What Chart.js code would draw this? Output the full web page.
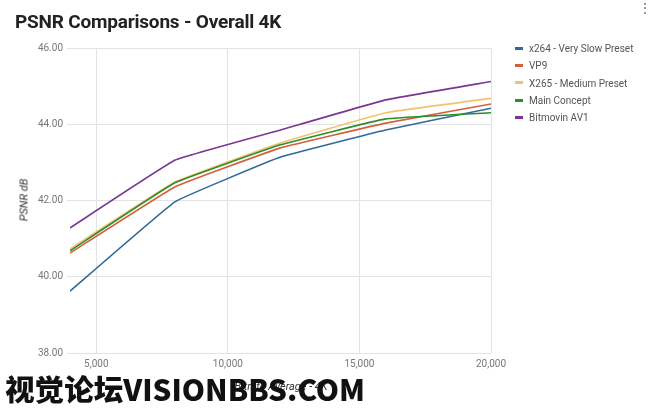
<!DOCTYPE html>
<html>
<head>
<meta charset="utf-8">
<script src="https://cdn.jsdelivr.net/npm/chart.js@4"></script>
<style>
  body { margin: 0; background: #fff; font-family: Roboto, "Noto Sans", sans-serif; }
  #wrap { position: relative; width: 650px; height: 410px; overflow: hidden; }
  #chart { position: absolute; left: 0; top: 0; }
  .title { position: absolute; left: 15px; top: 10px; font-size: 19px; font-weight: bold; color: #222; letter-spacing: -0.2px; }
  .menu { position: absolute; left: 638px; top: 0px; font-size: 14px; color: #777; }
  .ytitle { position: absolute; left: 24px; top: 200px; transform: translate(-50%, -50%) rotate(-90deg); font-size: 11px; font-style: italic; color: #333; white-space: nowrap; }
  .xtitle { position: absolute; left: 281px; top: 386px; transform: translate(-50%, -50%); font-size: 11px; font-style: italic; color: #333; white-space: nowrap; }
  .legend { position: absolute; left: 515px; top: 40px; font-size: 10px; color: #555; }
  .legend div { height: 17.3px; line-height: 17px; white-space: nowrap; }
  .legend span { display: inline-block; width: 8px; height: 3px; margin-right: 6px; vertical-align: middle; position: relative; top: -1px; }
  .mark { position: absolute; left: 5px; top: 388px; transform: translateY(-50%); font-family: "Noto Sans CJK SC", sans-serif; font-weight: 900; font-size: 29px; color: #111; white-space: nowrap; transform-origin: left center; }
</style>
</head>
<body>
<div id="wrap">
  <canvas id="chart" width="650" height="410"></canvas>
  <div class="title">PSNR Comparisons - Overall 4K</div>
  <div class="menu">&#8942;</div>
  <div class="ytitle">PSNR dB</div>
  <div class="xtitle">Bitrate Average - 4K</div>
  <div class="legend" id="legend"></div>
  <div class="mark" id="mark">视觉论坛VISIONBBS.COM</div>
</div>
<script>
const bitrates = [4000, 8000, 12000, 16000, 20000];
const xTicks = [5000, 10000, 15000, 20000];
const yTicks = [38, 40, 42, 44, 46];

const seriesNames = ['x264 - Very Slow Preset', 'VP9', 'X265 - Medium Preset', 'Main Concept', 'Bitmovin AV1'];
const seriesColors = ['#33689a', '#d4603a', '#f2c26e', '#2c8c2e', '#7c3592'];

const x264 = [39.62, 41.97, 43.14, 43.85, 44.42];
const vp9 = [40.62, 42.36, 43.38, 44.03, 44.53];
const x265 = [40.73, 42.49, 43.51, 44.30, 44.68];
const mainConcept = [40.68, 42.47, 43.46, 44.14, 44.30];
const av1 = [41.28, 43.06, 43.85, 44.64, 45.12];

const seriesValues = [x264, vp9, x265, mainConcept, av1];

// Legend
const legend = document.getElementById('legend');
seriesNames.forEach((name, i) => {
    const row = document.createElement('div');
    row.innerHTML = `<span style="background:${seriesColors[i]}"></span>${name}`;
    legend.appendChild(row);
});

// Watermark width fit
const mark = document.getElementById('mark');
const w = mark.getBoundingClientRect().width;
mark.style.transform = `translateY(-50%) scaleX(${360 / w})`;

const datasets = seriesValues.map((vals, i) => ({
    label: seriesNames[i],
    data: vals.map((v, j) => ({ x: bitrates[j], y: v })),
    borderColor: seriesColors[i],
    backgroundColor: seriesColors[i],
    borderWidth: 1.6,
    pointRadius: 0,
    tension: 0.08,
    fill: false,
    order: seriesValues.length - i
}));

new Chart(document.getElementById('chart').getContext('2d'), {
    type: 'line',
    data: { datasets: datasets },
    options: {
        responsive: false,
        animation: false,
        layout: { padding: { left: 0, top: 48, right: 159, bottom: 0 } },
        plugins: { legend: { display: false }, tooltip: { enabled: false }, title: { display: false } },
        scales: {
            x: {
                type: 'linear',
                min: 4000,
                max: 20000,
                afterBuildTicks: axis => { axis.ticks = xTicks.map(v => ({ value: v })); },
                afterFit: axis => { axis.height = 57; },
                grid: { color: '#e3e3e3', drawTicks: false },
                border: { display: false },
                ticks: {
                    padding: 5,
                    color: '#777',
                    font: { family: 'Roboto', size: 10 },
                    maxRotation: 0,
                    callback: v => v.toLocaleString('en-US')
                }
            },
            y: {
                min: 38,
                max: 46,
                afterBuildTicks: axis => { axis.ticks = yTicks.map(v => ({ value: v })); },
                afterFit: axis => { axis.width = 70; },
                grid: { color: '#e3e3e3', tickLength: 3 },
                border: { display: false },
                ticks: {
                    padding: 4,
                    color: '#777',
                    font: { family: 'Roboto', size: 10 },
                    callback: v => v.toFixed(2)
                }
            }
        }
    }
});
</script>
</body>
</html>
